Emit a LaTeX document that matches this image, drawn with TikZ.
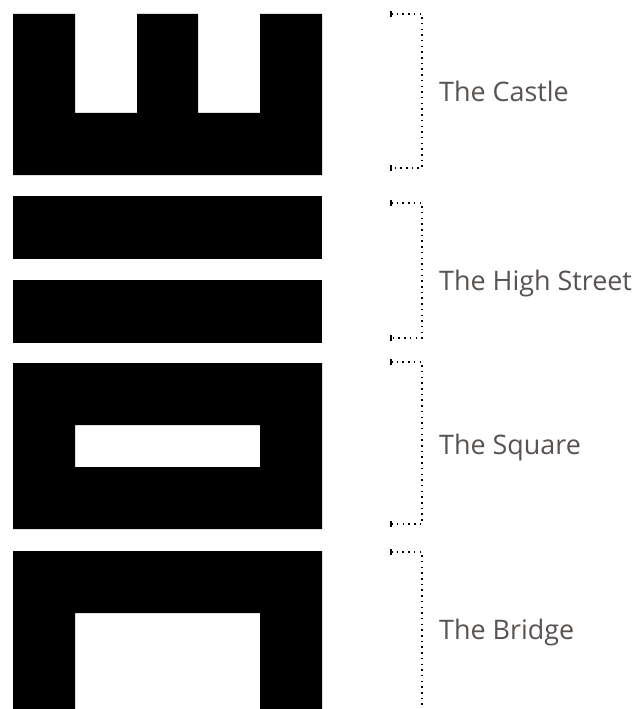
\documentclass[tikz,border=0pt]{standalone}
\usepackage{fontspec}
\setmainfont{Open Sans}
\usepackage{xcolor}
\usetikzlibrary{positioning}
\definecolor{labelgray}{RGB}{88,83,80}

\begin{document}
\begin{tikzpicture}[
  x=1bp, y=-1bp,
  block/.style={fill=black, even odd rule},
  tick/.style={line width=1.8bp},
  dots/.style={line width=1.5bp, dash pattern=on 1.5bp off 4.2bp},
  lbl/.style={anchor=base west, text=labelgray, inner sep=0pt,
    font=\fontsize{27}{32}\selectfont}
]
\useasboundingbox (0,0) rectangle (636,709);
\clip (0,0) rectangle (636,709);

% castle: battlements
\fill[block] (13,14) -- (75,14) -- (75,113) -- (137,113) -- (137,14)
  -- (198,14) -- (198,113) -- (260,113) -- (260,14) -- (322,14)
  -- (322,175) -- (13,175) -- cycle;

% high street: two bars
\fill[block] (13,196) rectangle (322,259);
\fill[block] (13,280) rectangle (322,343);

% square: frame with a slot
\fill[block] (13,363) rectangle (322,529) (75,425) rectangle (260,467);

% bridge: arch
\fill[block] (13,551) -- (322,551) -- (322,709) -- (260,709) -- (260,613)
  -- (75,613) -- (75,709) -- (13,709) -- cycle;

% bracket ends
\coordinate (castle-t) at (391,14);   \coordinate (castle-b) at (391,168);
\coordinate (street-t) at (391,203);  \coordinate (street-b) at (391,338);
\coordinate (square-t) at (391,362);  \coordinate (square-b) at (391,524);
\coordinate (bridge-t) at (391,552);  \coordinate (bridge-b) at (391,712);

% labels
\node[lbl] (castle) at (439,102) {The Castle};
\node[lbl] (street) at (439,290) {The High Street};
\node[lbl] (square) at (439,454) {The Square};
\node[lbl] (bridge) at (439,639) {The Bridge};

% dotted brackets
\foreach \nm in {castle,street,square,bridge}{
  \draw[dots] (\nm-t) -- ([xshift=31bp]\nm-t) -- ([xshift=31bp]\nm-b) -- (\nm-b);
  \draw[tick] ([yshift=3bp]\nm-t) -- ([yshift=-3bp]\nm-t);
  \draw[tick] ([yshift=3bp]\nm-b) -- ([yshift=-3bp]\nm-b);
}
\end{tikzpicture}
\end{document}
